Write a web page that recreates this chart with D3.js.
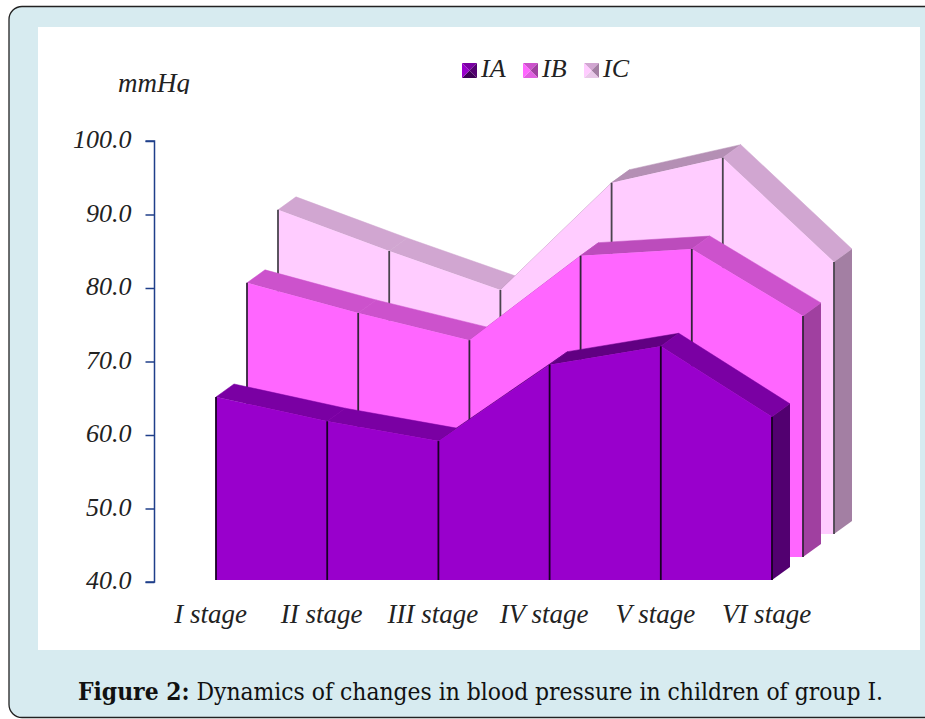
<!DOCTYPE html>
<html><head><meta charset="utf-8">
<script src="https://cdn.jsdelivr.net/npm/d3@7"></script>
<style>html,body{margin:0;padding:0;background:#fff}svg{display:block}</style>
</head><body><svg id="c" width="925" height="719"></svg>
<script>
const categories = ["I stage","II stage","III stage","IV stage","V stage","VI stage"];
const seriesNames = ["IA","IB","IC"];
const IA = [64.9,61.6,58.9,69.3,71.8,62.2];
const IB = [77.3,73.2,69.5,81.0,81.9,72.8];
const IC = [84.1,78.5,73.2,87.8,91.2,77.0];
const yTicks = [40,50,60,70,80,90,100];
const caption = "Dynamics of changes in blood pressure in children of group I.";

const serif = "'Liberation Serif','Times New Roman',serif";
const svg = d3.select("#c");
// frame
svg.append("rect").attr("x",9).attr("y",6.5).attr("width",940).attr("height",711)
  .attr("rx",13).attr("fill","#d7ebf0").attr("stroke","#222").attr("stroke-width",1.3);
svg.append("rect").attr("x",38).attr("y",27).attr("width",882).attr("height",623).attr("fill","#fff");

const x = d3.scalePoint().domain(categories).range([216,772]);
const yAxisScale = d3.scaleLinear().domain([40,100]).range([582,141]);
const yPlot = d3.scaleLinear().domain([40,100]).range([580,139]);

const depth = {dx:18, dy:-13};
const styles = [
  {name:"IC", vals:IC, ox:62, oy:-46, front:"#ffccff", top:"#d1a6d1", rise:"#b48fb4", side:"#a37fa3", line:"#4a444e"},
  {name:"IB", vals:IB, ox:31, oy:-23, front:"#ff66ff", top:"#cc52cc", rise:"#bc4cbc", side:"#a040a0", line:"#33243a"},
  {name:"IA", vals:IA, ox:0,  oy:0,   front:"#9900cc", top:"#7a00a3", rise:"#610082", side:"#520070", line:"#180024"}
];
const poly = (g,pts,fill)=>g.append("polygon").attr("points",pts.map(p=>p.join(",")).join(" ")).attr("fill",fill);

styles.forEach(s=>{
  const g = svg.append("g").attr("class","series-"+s.name);
  const pts = categories.map((c,i)=>[x(c)+s.ox, yPlot(s.vals[i])+s.oy]);
  const base = yPlot(40)+s.oy;
  // top faces (rising segments face away from the light)
  d3.pairs(pts).forEach(([a,b])=>{
    const col = b[1] < a[1] ? s.rise : s.top;
    poly(g,[a,b,[b[0]+depth.dx,b[1]+depth.dy],[a[0]+depth.dx,a[1]+depth.dy]],col)
      .attr("stroke",col).attr("stroke-width",0.5);
  });
  // right end face
  const last = pts[pts.length-1];
  poly(g,[last,[last[0]+depth.dx,last[1]+depth.dy],[last[0]+depth.dx,base+depth.dy],[last[0],base]],s.side);
  // front face
  const area = d3.area().x(d=>d[0]).y0(base).y1(d=>d[1]);
  g.append("path").attr("d",area(pts)).attr("fill",s.front);
  // vertical edges
  pts.forEach(p=>{
    g.append("line").attr("x1",p[0]).attr("x2",p[0]).attr("y1",p[1]).attr("y2",base)
      .attr("stroke",s.line).attr("stroke-width",1.8);
  });
});

// y axis
const yAxis = svg.append("g").attr("transform","translate(154.5,0)")
  .call(d3.axisLeft(yAxisScale).tickValues(yTicks).tickSize(9).tickPadding(14).tickFormat(d3.format(".1f")));
yAxis.selectAll("path,line").attr("stroke","#1f3f8a").attr("stroke-width",1.5);
yAxis.select("path").attr("d","M-9,141H0V582H-9");
yAxis.selectAll("text").attr("font-family",serif).attr("font-style","italic").attr("font-size",26).attr("fill","#222").attr("dy","0.26em");

// x axis labels
const xAxis = svg.append("g").attr("transform","translate(-6,602)")
  .call(d3.axisBottom(x).tickSize(0).tickPadding(0));
xAxis.select("path").remove();
xAxis.selectAll("text").attr("font-family",serif).attr("font-style","italic").attr("font-size",27).attr("fill","#222").attr("dy","0.76em");

// y title, clipped as in the source
svg.append("clipPath").attr("id","mm").append("rect").attr("x",100).attr("y",60).attr("width",110).attr("height",34);
svg.append("text").attr("x",118).attr("y",92).attr("clip-path","url(#mm)").text("mmHg")
  .attr("font-family",serif).attr("font-style","italic").attr("font-size",27).attr("fill","#222");

// legend
const legendX = {IA:462, IB:523, IC:584};
const legendCol = {
  IA:["#9900cc","#7a00a3","#520070","#3d0055"],
  IB:["#ff66ff","#cc52cc","#a040a0","#e060e0"],
  IC:["#ffccff","#d1a6d1","#a37fa3","#e8c8e8"]
};
seriesNames.forEach(n=>{
  const g = svg.append("g").attr("transform",`translate(${legendX[n]},63)`);
  const S=15,c=S/2,[a,b,d,e]=legendCol[n];
  poly(g,[[0,0],[S,0],[c,c]],b);
  poly(g,[[S,0],[S,S],[c,c]],d);
  poly(g,[[S,S],[0,S],[c,c]],e);
  poly(g,[[0,S],[0,0],[c,c]],a);
  svg.append("text").attr("x",legendX[n]+19).attr("y",77).text(n)
    .attr("font-family",serif).attr("font-style","italic").attr("font-size",26).attr("fill","#222");
});

// caption
const cap = svg.append("text").attr("x",78).attr("y",700)
  .attr("font-family","'DejaVu Serif Condensed','DejaVu Serif',serif").attr("font-stretch","condensed")
  .attr("font-size",24).attr("fill","#111")
  .attr("textLength",805).attr("lengthAdjust","spacingAndGlyphs");
cap.append("tspan").attr("font-weight","bold").text("Figure 2:");
cap.append("tspan").text(" "+caption);
</script></body></html>
